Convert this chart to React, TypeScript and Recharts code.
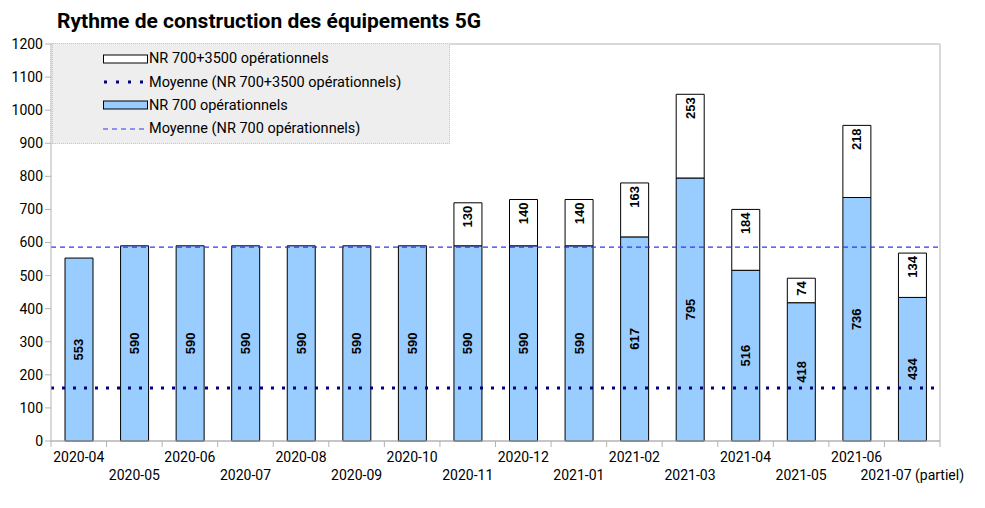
import React from "react";
import {
  BarChart,
  Bar,
  XAxis,
  YAxis,
  CartesianGrid,
  ReferenceLine,
  Legend,
  LabelList,
} from "recharts";

const categories = [
  "2020-04",
  "2020-05",
  "2020-06",
  "2020-07",
  "2020-08",
  "2020-09",
  "2020-10",
  "2020-11",
  "2020-12",
  "2021-01",
  "2021-02",
  "2021-03",
  "2021-04",
  "2021-05",
  "2021-06",
  "2021-07 (partiel)",
];

const nr700 = [553, 590, 590, 590, 590, 590, 590, 590, 590, 590, 617, 795, 516, 418, 736, 434];
const nr3500Extra = [null, null, null, null, null, null, null, 130, 140, 140, 163, 253, 184, 74, 218, 134];

const meanNr700 = 586;
const meanNr3500 = 160;

const yTicks = [0, 100, 200, 300, 400, 500, 600, 700, 800, 900, 1000, 1100, 1200];

const GRID = "#b3b3b3";
const BLUE_FILL = "#99ccff";
const DOT_COLOR = "#000080";
const DASH_COLOR = "#3333ee";
const FONT = "Roboto, 'Liberation Sans', sans-serif";

const chartData = categories.map((name, i) => ({
  name,
  idx: i,
  nr700: nr700[i],
  extra: nr3500Extra[i],
}));

const edgeTicks = [...categories.map((_, i) => i), categories.length];

const EmptyTick = () => <g />;

const CategoryTick = (props: any) => {
  const { x, y, payload, index } = props;
  return (
    <text
      x={x}
      y={y}
      dy={index % 2 === 0 ? 15 : 32.5}
      textAnchor="middle"
      fontSize={14}
      fontFamily={FONT}
      fill="#000"
    >
      {payload.value}
    </text>
  );
};

const CenterLabel = (props: any) => {
  const { x, y, width, height, value } = props;
  if (value == null) return null;
  const cx = x + width / 2;
  const cy = y + height / 2;
  return (
    <text
      x={cx}
      y={cy}
      transform={`rotate(-90, ${cx}, ${cy})`}
      textAnchor="middle"
      dominantBaseline="central"
      fontSize={13}
      fontWeight="bold"
      fontFamily="'Liberation Sans', Arial, sans-serif"
      fill="#000"
    >
      {value}
    </text>
  );
};

const TopLabel = (props: any) => {
  const { x, y, width, height, value } = props;
  if (value == null) return null;
  const cx = x + width / 2;
  const top = Math.min(y, y + height) + 3;
  return (
    <text
      x={cx}
      y={top}
      transform={`rotate(-90, ${cx}, ${top})`}
      textAnchor="end"
      dominantBaseline="central"
      fontSize={13}
      fontWeight="bold"
      fontFamily="'Liberation Sans', Arial, sans-serif"
      fill="#000"
    >
      {value}
    </text>
  );
};

const legendRows = [
  { label: "NR 700+3500 opérationnels", kind: "box", fill: "#ffffff" },
  { label: "Moyenne (NR 700+3500 opérationnels)", kind: "dots" },
  { label: "NR 700 opérationnels", kind: "box", fill: BLUE_FILL },
  { label: "Moyenne (NR 700 opérationnels)", kind: "dash" },
];

const LegendBox = () => (
  <div
    style={{
      width: 398,
      height: 101,
      background: "#eeeeee",
      border: "1px dotted #c8c8c8",
      boxSizing: "border-box",
      paddingTop: 3,
      fontFamily: FONT,
      fontSize: 14.5,
      color: "#000",
    }}
  >
    {legendRows.map((row) => (
      <div key={row.label} style={{ display: "flex", alignItems: "center", height: 23.4 }}>
        <svg width={96} height={12} style={{ flex: "none" }}>
          {row.kind === "box" && (
            <rect x={50.5} y={2} width={44} height={8} fill={row.fill} stroke="#000" strokeWidth={1} />
          )}
          {row.kind === "dots" && (
            <line x1={51} x2={95} y1={6} y2={6} stroke={DOT_COLOR} strokeWidth={3} strokeDasharray="3 9" />
          )}
          {row.kind === "dash" && (
            <line x1={50} x2={95} y1={6} y2={6} stroke={DASH_COLOR} strokeWidth={1.2} strokeDasharray="5 4" />
          )}
        </svg>
        <span style={{ whiteSpace: "nowrap" }}>{row.label}</span>
      </div>
    ))}
  </div>
);

export default function App() {
  return (
    <div style={{ position: "relative", width: 970, height: 492 }}>
      <div
        style={{
          position: "absolute",
          left: 49,
          top: 3,
          fontFamily: FONT,
          fontWeight: "bold",
          fontSize: 21,
          lineHeight: "21px",
          whiteSpace: "nowrap",
          color: "#000",
        }}
      >
        Rythme de construction des équipements 5G
      </div>
      <BarChart
        width={970}
        height={492}
        data={chartData}
        margin={{ top: 36, right: 37, bottom: 0, left: 0 }}
        barSize={28}
      >
        <CartesianGrid horizontal vertical={false} stroke={GRID} />
        <XAxis
          xAxisId="a_edges"
          type="number"
          dataKey="idx"
          domain={[0, categories.length]}
          ticks={edgeTicks}
          interval={0}
          tick={EmptyTick}
          tickSize={6}
          height={6}
          stroke={GRID}
          allowDataOverflow
        />
        <XAxis
          xAxisId="b_cat"
          dataKey="name"
          interval={0}
          axisLine={false}
          tickLine={false}
          tickSize={0}
          tickMargin={0}
          height={53}
          tick={CategoryTick}
        />
        <YAxis
          yAxisId="left"
          width={43}
          domain={[0, 1200]}
          ticks={yTicks}
          interval={0}
          stroke={GRID}
          tickSize={6}
          tick={{ fill: "#000", fontSize: 14, fontFamily: FONT }}
        />
        <YAxis
          yAxisId="right"
          orientation="right"
          width={1}
          domain={[0, 1200]}
          tick={false}
          tickLine={false}
          stroke={GRID}
        />
        <Legend
          content={LegendBox}
          layout="vertical"
          align="center"
          verticalAlign="middle"
          wrapperStyle={{ top: 35, left: 44, width: 398, height: 101 }}
        />
        <Bar
          dataKey="nr700"
          stackId="a"
          xAxisId="b_cat"
          yAxisId="left"
          fill={BLUE_FILL}
          stroke="#000"
          strokeWidth={1}
          isAnimationActive={false}
        >
          <LabelList dataKey="nr700" content={CenterLabel} />
        </Bar>
        <Bar
          dataKey="extra"
          stackId="a"
          xAxisId="b_cat"
          yAxisId="left"
          fill="#ffffff"
          stroke="#000"
          strokeWidth={1}
          isAnimationActive={false}
        >
          <LabelList dataKey="extra" content={TopLabel} />
        </Bar>
        <ReferenceLine
          y={meanNr700}
          xAxisId="b_cat"
          yAxisId="left"
          stroke={DASH_COLOR}
          strokeWidth={1.2}
          strokeDasharray="5 4"
        />
        <ReferenceLine
          y={meanNr3500}
          xAxisId="b_cat"
          yAxisId="left"
          stroke={DOT_COLOR}
          strokeWidth={3}
          strokeDasharray="3 8"
        />
      </BarChart>
    </div>
  );
}
